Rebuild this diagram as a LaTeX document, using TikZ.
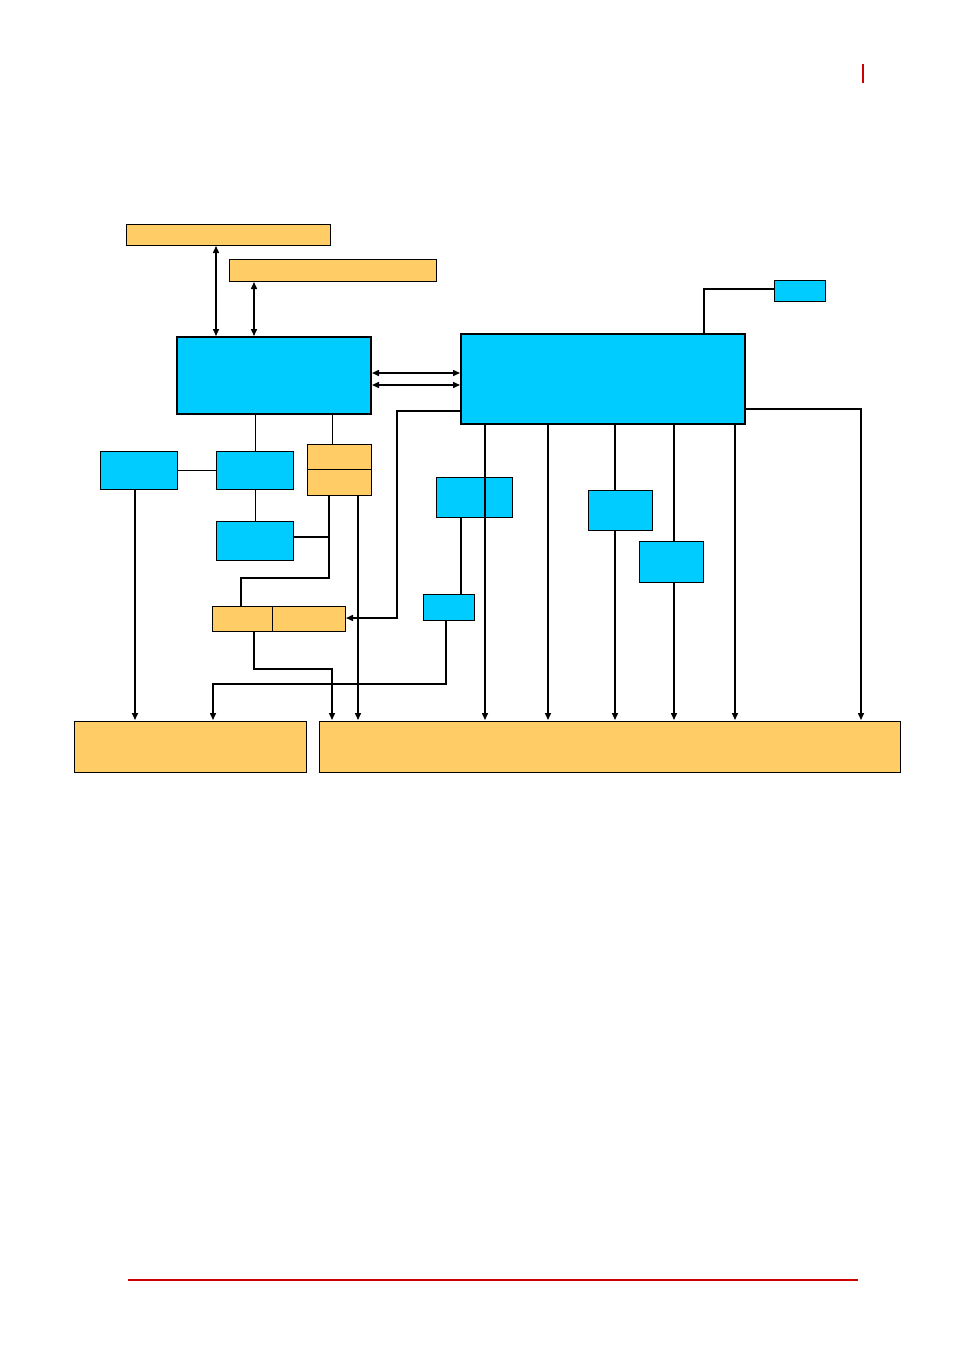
\documentclass[tikz,border=0pt]{standalone}
\usetikzlibrary{arrows.meta}
\definecolor{bl}{HTML}{00CCFF}
\definecolor{orr}{HTML}{FFCC66}
\definecolor{rd}{HTML}{CC0000}
\begin{document}
\begin{tikzpicture}[x=1pt,y=-1pt,
 bbox/.style={draw=black,fill=bl,line width=1pt},
 big/.style={draw=black,fill=bl,line width=2.6pt},
 obox/.style={draw=black,fill=orr,line width=1pt},
 ln/.style={line width=1.5pt},
 ar/.style={line width=1.5pt,-{Triangle[length=7pt,width=6pt]}},
 dar/.style={line width=1.5pt,{Triangle[length=7pt,width=6pt]}-{Triangle[length=7pt,width=6pt]}}]
\useasboundingbox (0,0) rectangle (954,1352);
\draw[rd,line width=1.5pt] (863,64) -- (863,83);
\draw[rd,line width=1.5pt] (128,1280) -- (858,1280);
% boxes
\draw[obox] (126,224) rectangle (330,245) node[coordinate](A){};
\draw[obox] (229,259) rectangle (436,281);
\draw[big] (177,337) rectangle (371,414);
\draw[big] (461,334) rectangle (745,424);
\draw[bbox] (774,280) rectangle (825,301);
\draw[bbox] (100,451) rectangle (177,489);
\draw[bbox] (216,451) rectangle (293,489);
\draw[bbox] (216,521) rectangle (293,560);
\draw[obox] (307,444) rectangle (371,469);
\draw[obox] (307,469) rectangle (371,495);
\draw[obox] (212,606) rectangle (272,631);
\draw[obox] (272,606) rectangle (345,631);
\draw[bbox] (436,477) rectangle (512,517);
\draw[bbox] (423,594) rectangle (474,620);
\draw[bbox] (588,490) rectangle (652,530);
\draw[bbox] (639,541) rectangle (703,582);
\draw[obox] (74,721) rectangle (306,772);
\draw[obox] (319,721) rectangle (900,772);
% connectors
\draw[ln] (774,289) -- (704,289) -- (704,333);
\draw[dar] (216,246) -- (216,336);
\draw[dar] (254,282) -- (254,336);
\draw[dar] (372,373) -- (460,373);
\draw[dar] (372,385) -- (460,385);
\draw[line width=1pt] (177,470) -- (216,470);
\draw[line width=1pt] (255,415) -- (255,451);
\draw[line width=1pt] (255,489) -- (255,521);
\draw[line width=1pt] (332,415) -- (332,444);
\draw[ln] (293,537) -- (329,537);
\draw[ln] (329,495) -- (329,578) -- (241,578) -- (241,606);
\draw[ar] (460,411) -- (397,411) -- (397,618) -- (346,618);
\draw[ar] (358,495) -- (358,720);
\draw[ar] (135,489) -- (135,720);
\draw[ar] (254,631) -- (254,669) -- (332,669) -- (332,720);
\draw[ln] (461,517) -- (461,594);
\draw[ar] (446,620) -- (446,684) -- (213,684) -- (213,720);
\draw[ar] (485,425) -- (485,720);
\draw[ar] (548,425) -- (548,720);
\draw[ln] (615,425) -- (615,490);
\draw[ar] (615,530) -- (615,720);
\draw[ln] (674,425) -- (674,541);
\draw[ar] (674,582) -- (674,720);
\draw[ar] (735,425) -- (735,720);
\draw[ar] (746,409) -- (861,409) -- (861,720);
\end{tikzpicture}
\end{document}
